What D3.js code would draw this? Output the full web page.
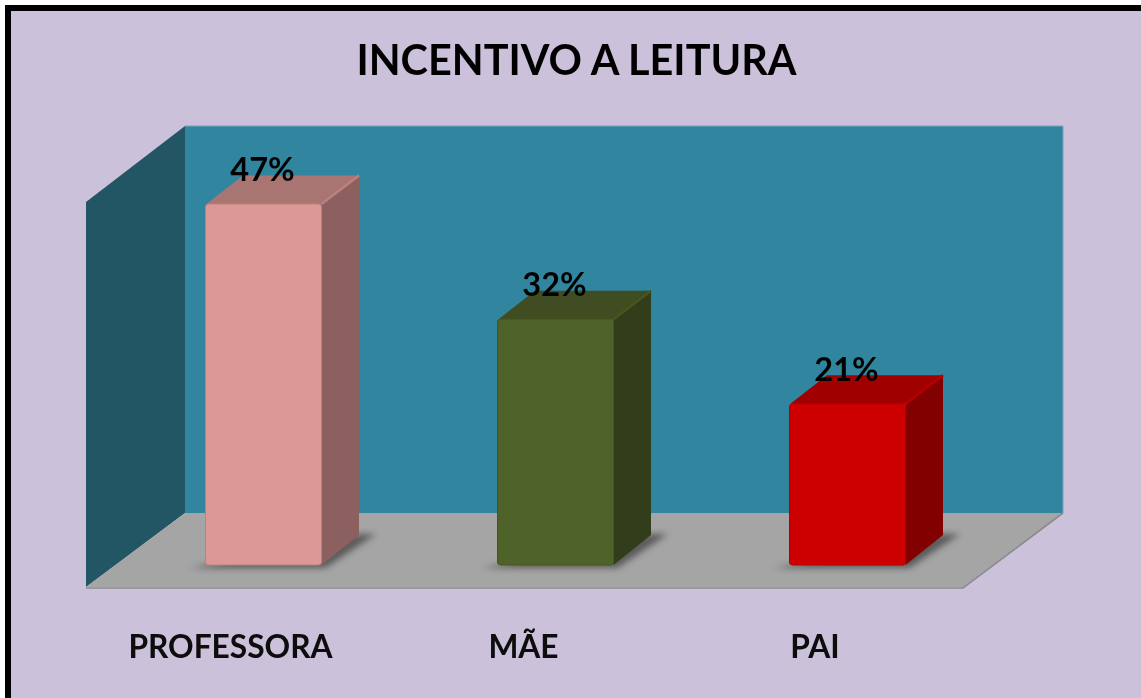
<!DOCTYPE html>
<html><head><meta charset="utf-8">
<script src="https://cdn.jsdelivr.net/npm/d3@7"></script>
<style>html,body{margin:0;padding:0;background:#fff}svg{display:block}text{font-family:Lato,"Open Sans",sans-serif}</style>
</head><body><svg id="c" width="1141" height="698"></svg>
<script>
const categories = ["PROFESSORA","MÃE","PAI"];
const values = [47,32,21];
const frontColors = ["#dc9895","#50622a","#cc0000"];
const sideColors = ["#8c605e","#323e1a","#820000"];
const topColors = ["#a97472","#3f4d20","#a00000"];
const edgeColors = ["#b98280","#46561f","#b50000"];
const title = "INCENTIVO A LEITURA";

const svg = d3.select("#c");
const defs = svg.append("defs");
const f = defs.append("filter").attr("id","blur").attr("x","-30%").attr("y","-100%").attr("width","160%").attr("height","300%");
f.append("feGaussianBlur").attr("stdDeviation",3);
const soft = defs.append("filter").attr("id","soft").attr("filterUnits","userSpaceOnUse")
  .attr("x",0).attr("y",0).attr("width",1141).attr("height",698);
soft.append("feGaussianBlur").attr("stdDeviation",0.55);

const g = svg.append("g").attr("filter","url(#soft)");
g.append("rect").attr("x",8).attr("y",8).attr("width",1140).attr("height",700).attr("fill","#ccc1da");
g.append("path").attr("d","M5 700V5H1150V11H11V700Z").attr("fill","#000");

const y = d3.scaleLinear().domain([0,47]).range([565,204]);
const band = d3.scalePoint().domain(categories).range([205.5,789.5]);
const bw = 116, dx = 37.5, dy = 28.5;
const poly = (pts,fill)=>g.append("polygon").attr("points",pts.map(p=>p.join(",")).join(" ")).attr("fill",fill);

// walls and floor
poly([[185,126],[1063,126],[1063,513],[185,513]],"#31859f");
poly([[86,202],[185,126],[185,513],[86,587]],"#215665");
poly([[185,513],[1063,513],[963,587],[86,587]],"#a5a5a5");
g.append("path").attr("d","M185 126H1063V513").attr("fill","none").attr("stroke","#7ba3b8").attr("stroke-width",1);
g.append("path").attr("d","M86 588H963L1063 513").attr("fill","none").attr("stroke","#8a8a8c").attr("stroke-width",1.6);

categories.forEach((c,i)=>{
  const x0 = band(c), yt = y(values[i]), yb = y(0);
  g.append("polygon").attr("filter","url(#blur)").attr("fill","#484848").attr("opacity",.8)
    .attr("points",[[x0-15,yb+3],[x0+bw+4,yb+3],[x0+bw+dx+17,yb-31],[x0+bw+dx,yb-31]].map(p=>p.join(",")).join(" "));
  poly([[x0+bw,yt],[x0+bw+dx,yt-dy],[x0+bw+dx,yb-30],[x0+bw,yb]],sideColors[i]);
  poly([[x0+1,yt],[x0+dx,yt-dy],[x0+bw+dx,yt-dy],[x0+bw,yt]],topColors[i]);
  g.append("path").attr("d",`M${x0+bw} ${yt}L${x0+bw+dx} ${yt-dy}`).attr("stroke",edgeColors[i]).attr("stroke-width",2.5).attr("fill","none");
  g.append("rect").attr("x",x0).attr("y",yt).attr("width",bw).attr("height",yb-yt).attr("rx",3)
    .attr("fill",frontColors[i]).attr("stroke",edgeColors[i]).attr("stroke-width",1);
  g.append("text").attr("x",x0+57).attr("y",yt-23).attr("text-anchor","middle")
    .attr("font-size",32.5).attr("font-weight",700).attr("fill","#050505").text(values[i]+"%");
});
const labelX = [230.5,523.5,815];
categories.forEach((c,i)=>g.append("text").attr("x",labelX[i]).attr("y",658).attr("text-anchor","middle")
  .attr("font-size",31.7).attr("font-weight",700).attr("fill","#0a0a0a").text(c));
g.append("text").attr("x",576.5).attr("y",75).attr("text-anchor","middle")
  .attr("font-size",41.4).attr("font-weight",700).attr("fill","#050505").text(title);
</script></body></html>
